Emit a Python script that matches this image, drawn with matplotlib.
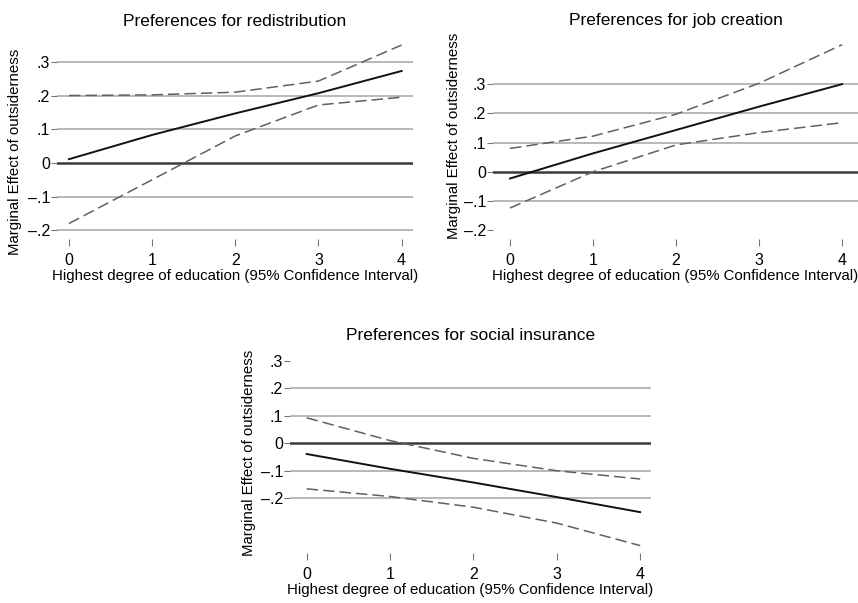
import numpy as np
import matplotlib
matplotlib.use("Agg")
import matplotlib.pyplot as plt

plt.rcParams['font.family'] = ['Liberation Sans', 'DejaVu Sans']

#Data (education level 0-4)
educ = [0, 1, 2, 3, 4]

#Preferences for redistribution
redis_me = [0.011, 0.083, 0.147, 0.207, 0.273]
redis_hi = [0.200, 0.202, 0.210, 0.243, 0.350]
redis_lo = [-0.180, -0.050, 0.080, 0.172, 0.195]

#Preferences for job creation
job_me = [-0.023, 0.063, 0.143, 0.223, 0.300]
job_hi = [0.080, 0.122, 0.197, 0.303, 0.435]
job_lo = [-0.124, 0.000, 0.092, 0.134, 0.168]

#Preferences for social insurance
soc_me = [-0.039, -0.093, -0.143, -0.196, -0.251]
soc_hi = [0.093, 0.010, -0.055, -0.100, -0.130]
soc_lo = [-0.166, -0.194, -0.233, -0.291, -0.373]

yticks = [-0.2, -0.1, 0, 0.1, 0.2, 0.3]
ytick_labels = ['\u2013.2', '\u2013.1', '0', '.1', '.2', '.3']

titles = ["Preferences for redistribution",
          "Preferences for job creation",
          "Preferences for social insurance"]
xlabel = "Highest degree of education (95% Confidence Interval)"
ylabel = "Marginal Effect of outsiderness"

W, H = 858, 603
fig = plt.figure(figsize=(W / 100, H / 100), dpi=100)
fig.patch.set_facecolor('white')


def px_axes(left, top, right, bottom):
    #axes box given in pixel coordinates (origin top-left)
    return fig.add_axes([left / W, 1 - bottom / H, (right - left) / W, (bottom - top) / H])


def px_to_axfrac(ax, px_x, px_y):
    #convert pixel position to axes fraction
    bb = ax.get_position()
    fx = px_x / W
    fy = 1 - px_y / H
    return ((fx - bb.x0) / bb.width, (fy - bb.y0) / bb.height)


def draw_panel(ax, me, hi, lo, grid_vals, xlim, ylim, title, title_y, ylab_x, ylab_y):
    for g in grid_vals:
        ax.axhline(g, color='#ababab', lw=1.2, zorder=1)
    ax.axhline(0, color='#3a3a3a', lw=1.8, zorder=2)
    ax.plot(educ, hi, color='#606060', lw=1.1, dashes=(7.5, 3.3), zorder=3)
    ax.plot(educ, lo, color='#606060', lw=1.1, dashes=(7.5, 3.3), zorder=3)
    ax.plot(educ, me, color='#111111', lw=1.4, zorder=4)

    ax.set_xlim(xlim)
    ax.set_ylim(ylim)
    ax.set_xticks(educ)
    ax.set_xticklabels([str(e) for e in educ])
    ax.set_yticks(yticks)
    ax.set_yticklabels(ytick_labels)
    for s in ax.spines.values():
        s.set_visible(False)
    ax.tick_params(axis='x', length=5, width=0.8, color='#777777', pad=5, labelsize=11.5)
    ax.tick_params(axis='y', length=4, width=0.8, color='#777777', pad=1, labelsize=11.5)
    ax.set_xlabel(xlabel, fontsize=10.8, labelpad=1)
    ax.set_ylabel(ylabel, fontsize=10.8)
    ax.yaxis.set_label_coords(*px_to_axfrac(ax, ylab_x, ylab_y))
    ax.set_facecolor('white')
    bb = ax.get_position()
    fig.text((bb.x0 + bb.x1) / 2, 1 - title_y / H, title, ha='center', va='center', fontsize=12.5)


#top-left
ax1 = px_axes(57, 42, 413, 239)
draw_panel(ax1, redis_me, redis_hi, redis_lo, [-0.2, -0.1, 0.1, 0.2, 0.3],
           (-0.144, 4.137), (-0.226, 0.359), titles[0], 21, 22, 152)

#top-right
ax2 = px_axes(493, 42, 858, 239)
draw_panel(ax2, job_me, job_hi, job_lo, [-0.1, 0.1, 0.2, 0.3],
           (-0.205, 4.19), (-0.23, 0.444), titles[1], 20, 461, 136)

#bottom
ax3 = px_axes(290, 352, 651, 553)
draw_panel(ax3, soc_me, soc_hi, soc_lo, [-0.2, -0.1, 0.1, 0.2],
           (-0.2, 4.13), (-0.4, 0.333), titles[2], 336, 256, 453)

fig.savefig("out.png", dpi=100, facecolor='white')
